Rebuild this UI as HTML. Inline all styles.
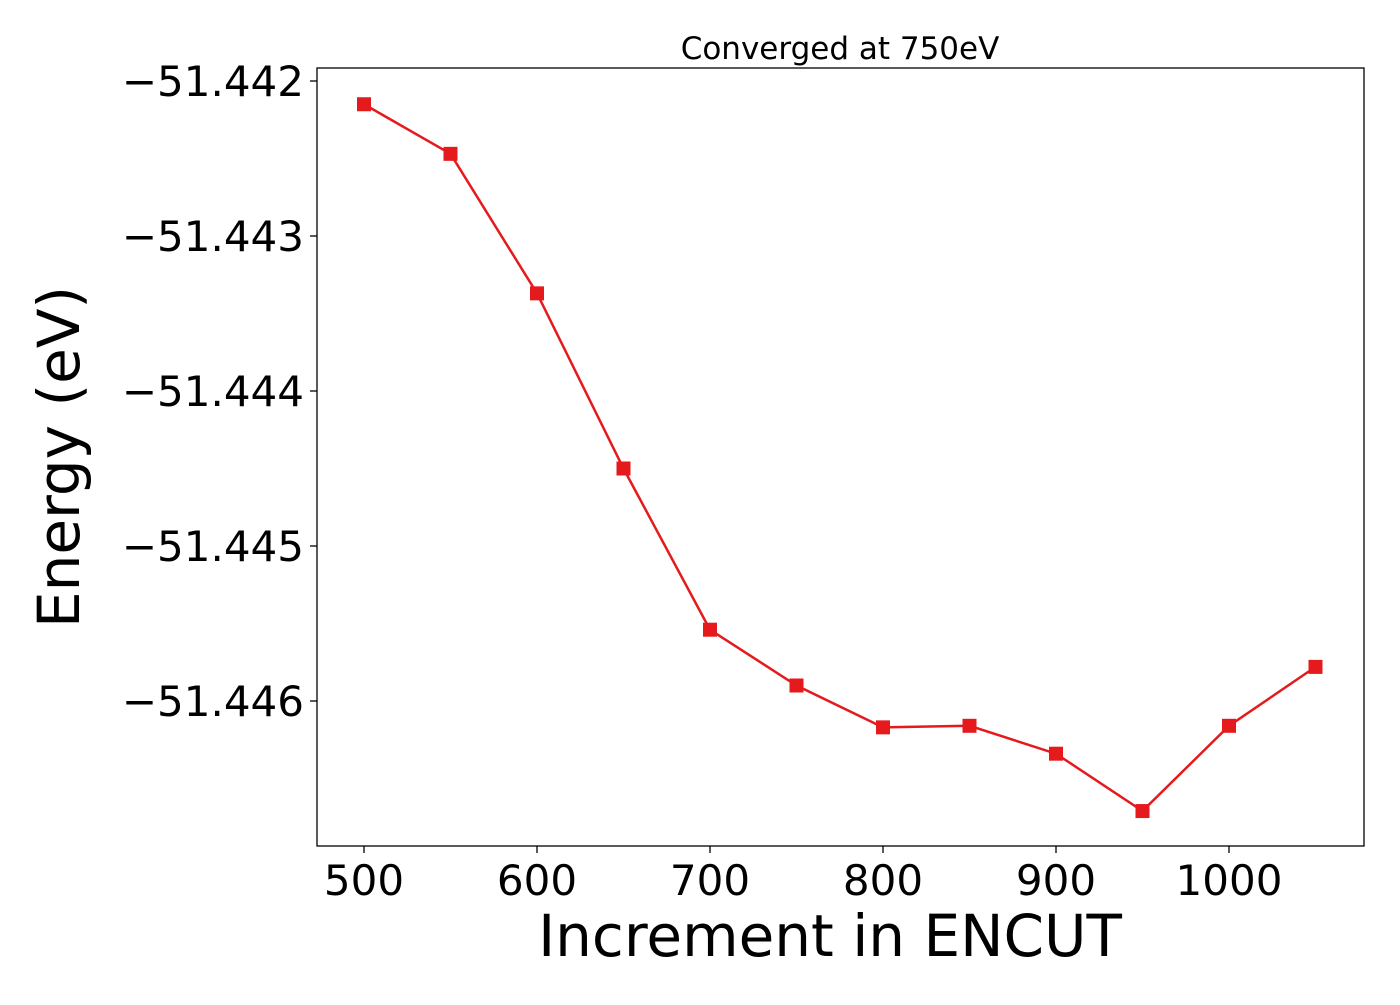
<!DOCTYPE html>
<html><head><meta charset="utf-8"><style>
html,body{margin:0;padding:0;background:#fff;}
svg text{font-family:"DejaVu Sans","Liberation Sans",sans-serif;fill:#000;}
</style></head><body>
<svg id="chart" width="1400" height="1000" viewBox="0 0 1400 1000" xmlns="http://www.w3.org/2000/svg">
<text x="840" y="59" font-size="31" text-anchor="middle">Converged at 750eV</text>
<g id="axes"></g>
<g id="series"></g>
<rect x="317" y="68" width="1047" height="778" fill="none" stroke="#000" stroke-width="1.3"/>
<text x="830" y="956" font-size="58" text-anchor="middle">Increment in ENCUT</text>
<text transform="translate(79,457) rotate(-90)" font-size="58" text-anchor="middle">Energy (eV)</text>
</svg>
<script>
const encut = [500,550,600,650,700,750,800,850,900,950,1000,1050];
const energy = [-51.44215,-51.44247,-51.44337,-51.4445,-51.44554,-51.4459,-51.44617,-51.44616,-51.44634,-51.44671,-51.44616,-51.44578];
const xTicks = [500,600,700,800,900,1000];
const yTicks = [-51.442,-51.443,-51.444,-51.445,-51.446];
const yTickLabels = ["\u221251.442","\u221251.443","\u221251.444","\u221251.445","\u221251.446"];

const NS="http://www.w3.org/2000/svg";
function xs(v){return 364+(v-500)*(1229-364)/500;}
function ys(v){return 81+(-51.442-v)*155/0.001;}
function mk(tag,attrs,parent){const e=document.createElementNS(NS,tag);for(const k in attrs)e.setAttribute(k,attrs[k]);parent.appendChild(e);return e;}
const axes=document.getElementById('axes'), series=document.getElementById('series');
xTicks.forEach(t=>{
  const l=mk('line',{x1:xs(t),x2:xs(t),y1:846,y2:853,stroke:'#000','stroke-width':1.3},axes);
  
  
  const tx=mk('text',{x:xs(t),y:895,'font-size':42,'text-anchor':'middle'},axes);
  tx.textContent=t;
  
  
});
yTicks.forEach((t,i)=>{
  const l=mk('line',{x1:310,x2:317,y1:ys(t),y2:ys(t),stroke:'#000','stroke-width':1.3},axes);
  
  
  const tx=mk('text',{x:304,y:ys(t)+15,'font-size':42,'text-anchor':'end'},axes);
  tx.textContent=yTickLabels[i];
  
  
});
const pts=encut.map((x,i)=>xs(x)+','+ys(energy[i])).join(' ');
const pl=mk('polyline',{points:pts,fill:'none',stroke:'#e41a1c','stroke-width':2.5},series);


encut.forEach((x,i)=>{
  const r=mk('rect',{x:xs(x)-7,y:ys(energy[i])-7,width:14,height:14,fill:'#e41a1c'},series);
  
  
});
</script>
</body></html>
